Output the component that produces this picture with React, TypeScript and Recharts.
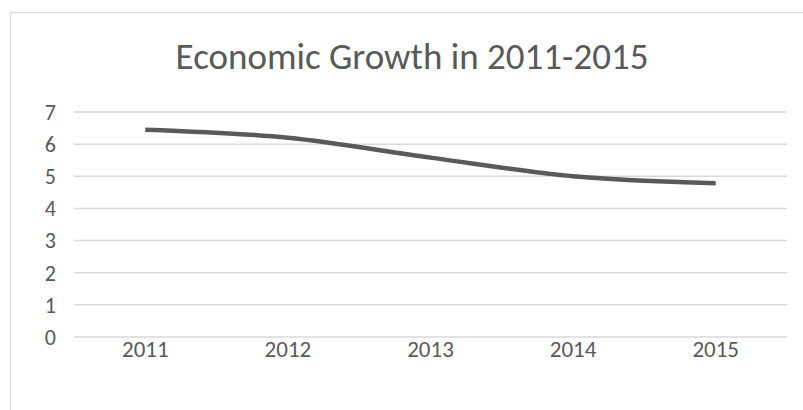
import { LineChart, Line, XAxis, YAxis, CartesianGrid } from "recharts";

const years = ["2011", "2012", "2013", "2014", "2015"];
const growth = [6.45, 6.2, 5.58, 5.0, 4.78];
const yTicks = [0, 1, 2, 3, 4, 5, 6, 7];

const data = years.map((year, i) => ({ year, value: growth[i] }));

const FONT = "Carlito, Calibri, 'Open Sans', sans-serif";

export default function App() {
  return (
    <div
      style={{
        position: "absolute",
        left: 0,
        top: 0,
        width: 803,
        height: 410,
        overflow: "hidden",
        background: "#ffffff",
      }}
    >
      <div
        style={{
          position: "absolute",
          left: 10,
          top: 12,
          width: 820,
          height: 420,
          border: "1.5px solid #d9d9d9",
        }}
      />
      <svg width={803} height={100} style={{ position: "absolute", left: 0, top: 0 }}>
        <text
          x={412}
          y={69}
          textAnchor="middle"
          fill="#595959"
          fontSize={37}
          fontFamily={FONT}
        >
          Economic Growth in 2011-2015
        </text>
      </svg>
      <div style={{ position: "absolute", left: 0, top: 0 }}>
        <LineChart
          width={803}
          height={410}
          data={data}
          margin={{ top: 112, right: 16, left: 0, bottom: 43 }}
        >
          <CartesianGrid vertical={false} stroke="#d9d9d9" strokeWidth={1.5} />
          <XAxis
            dataKey="year"
            scale="band"
            axisLine={false}
            tickLine={false}
            tickSize={0}
            tickMargin={4}
            height={30}
            tick={{ fill: "#595959", fontSize: 23, fontFamily: FONT }}
          />
          <YAxis
            domain={[0, 7]}
            ticks={yTicks}
            axisLine={false}
            tickLine={false}
            tickSize={0}
            tickMargin={18}
            width={74}
            tick={{ fill: "#595959", fontSize: 22, fontFamily: FONT }}
          />
          <Line
            type="monotone"
            dataKey="value"
            stroke="#595959"
            strokeWidth={4.5}
            dot={false}
            isAnimationActive={false}
          />
        </LineChart>
      </div>
    </div>
  );
}
